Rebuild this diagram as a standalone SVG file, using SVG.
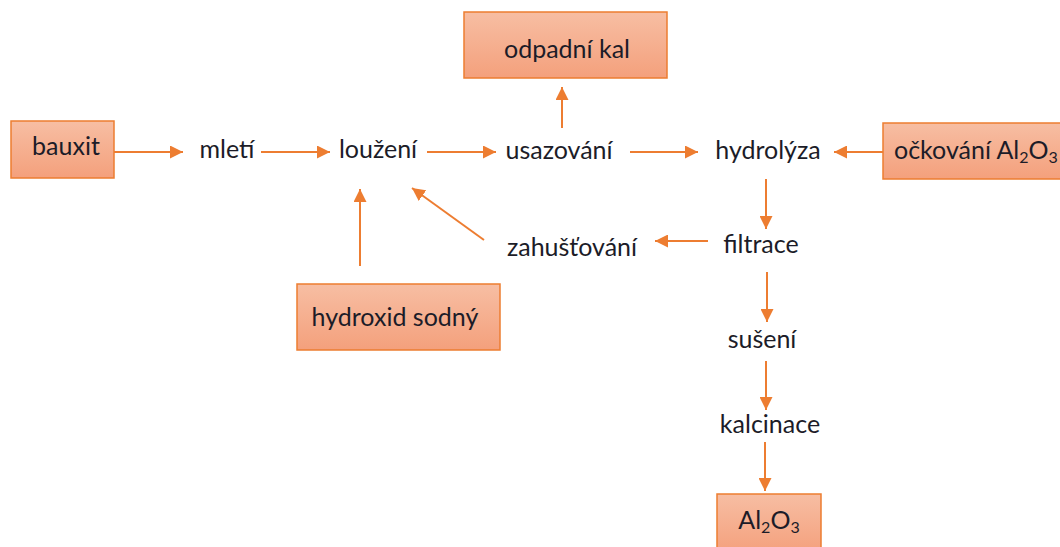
<svg xmlns="http://www.w3.org/2000/svg" width="1060" height="547" viewBox="0 0 1060 547">
<defs>
<linearGradient id="g" x1="0" y1="0" x2="0" y2="1">
<stop offset="0" stop-color="#f7bea3"/>
<stop offset="1" stop-color="#f4a07c"/>
</linearGradient>
<marker id="ah" viewBox="0 0 12 12" refX="12" refY="6" markerWidth="13" markerHeight="13" markerUnits="userSpaceOnUse" orient="auto">
<path d="M0,0 L12,6 L0,12 Z" fill="#ed7d31"/>
</marker>
<style>
.box{fill:url(#g);stroke:#ed7d31;stroke-width:1.5}
.t{font-family:Lato,"Liberation Sans",sans-serif;font-size:25px;fill:#1c1c28}
.s{font-size:16px}
.c line{stroke:#ed7d31;stroke-width:2;marker-end:url(#ah)}
</style>
</defs>
<rect width="1060" height="547" fill="#fff"/>
<g id="bauxit"><rect class="box" x="11" y="121" width="103" height="57"/><text class="t" x="66" y="155" text-anchor="middle">bauxit</text></g>
<g id="mleti"><text class="t" x="227" y="158" text-anchor="middle">mletí</text></g>
<g id="louzeni"><text class="t" x="378" y="158" text-anchor="middle">loužení</text></g>
<g id="usazovani"><text class="t" x="559" y="159" text-anchor="middle">usazování</text></g>
<g id="hydrolyza"><text class="t" x="768" y="159" text-anchor="middle">hydrolýza</text></g>
<g id="odpadni"><rect class="box" x="464" y="12" width="203" height="66"/><text class="t" x="567" y="58" text-anchor="middle">odpadní kal</text></g>
<g id="ockovani"><rect class="box" x="883" y="123" width="190" height="56"/><text class="t" x="894" y="159">očkování Al<tspan class="s" dy="4">2</tspan><tspan dy="-4">O</tspan><tspan class="s" dy="4">3</tspan></text></g>
<g id="hydroxid"><rect class="box" x="297" y="284" width="203" height="66"/><text class="t" x="395" y="326" text-anchor="middle">hydroxid sodný</text></g>
<g id="zahustovani"><text class="t" x="572" y="256" text-anchor="middle">zahušťování</text></g>
<g id="filtrace"><text class="t" x="761" y="253" text-anchor="middle">filtrace</text></g>
<g id="suseni"><text class="t" x="762" y="348" text-anchor="middle">sušení</text></g>
<g id="kalcinace"><text class="t" x="770" y="433" text-anchor="middle">kalcinace</text></g>
<g id="al2o3"><rect class="box" x="717" y="494" width="104" height="60"/><text class="t" x="769" y="529" text-anchor="middle">Al<tspan class="s" dy="4">2</tspan><tspan dy="-4">O</tspan><tspan class="s" dy="4">3</tspan></text></g>
<g id="connectors" class="c">
<line x1="114" y1="152" x2="183" y2="152"/>
<line x1="261" y1="152" x2="330" y2="152"/>
<line x1="427" y1="152" x2="496" y2="152"/>
<line x1="630" y1="152" x2="698" y2="152"/>
<line x1="883" y1="152" x2="834" y2="152"/>
<line x1="562" y1="128" x2="562" y2="87"/>
<line x1="360" y1="266" x2="360" y2="189"/>
<line x1="484" y1="240" x2="412" y2="188"/>
<line x1="766" y1="179" x2="766" y2="229"/>
<line x1="708" y1="241" x2="655" y2="241"/>
<line x1="767" y1="272" x2="767" y2="322"/>
<line x1="766" y1="361" x2="766" y2="410"/>
<line x1="765" y1="442" x2="765" y2="491"/>
</g>
</svg>
